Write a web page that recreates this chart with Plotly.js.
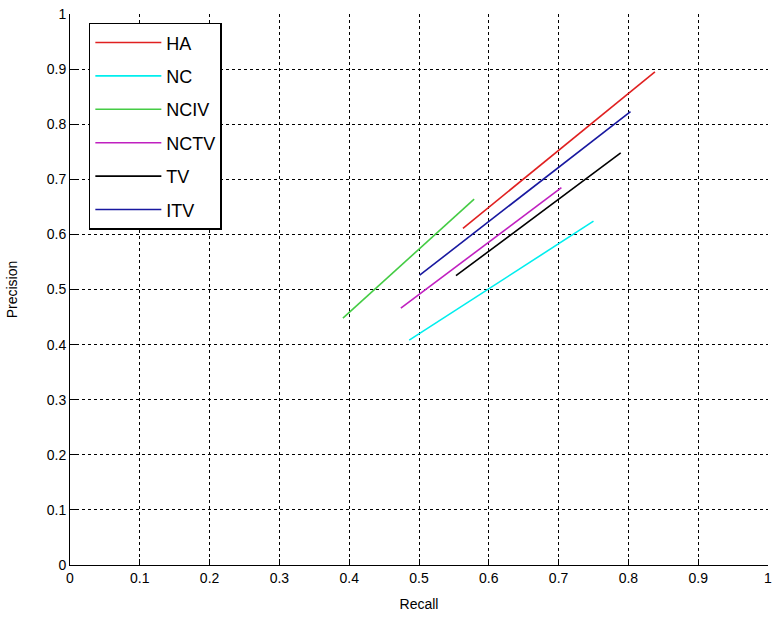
<!DOCTYPE html>
<html>
<head>
<meta charset="utf-8">
<script src="https://cdn.plot.ly/plotly-3.0.1.min.js"></script>
<style>
  body { margin: 0; background: #fff; }
  #chart { width: 779px; height: 620px; }
</style>
</head>
<body>
<div id="chart"></div>
<script>
// Recall / Precision endpoints
const methods = ["HA", "NC", "NCIV", "NCTV", "TV", "ITV"];
const recallHA = [0.563, 0.838];
const precisionHA = [0.611, 0.895];
const recallNC = [0.486, 0.750];
const precisionNC = [0.408, 0.624];
const recallNCIV = [0.391, 0.579];
const precisionNCIV = [0.448, 0.664];
const recallNCTV = [0.474, 0.704];
const precisionNCTV = [0.466, 0.685];
const recallTV = [0.553, 0.789];
const precisionTV = [0.525, 0.748];
const recallITV = [0.501, 0.803];
const precisionITV = [0.526, 0.823];
const tickVals = [0, 0.1, 0.2, 0.3, 0.4, 0.5, 0.6, 0.7, 0.8, 0.9, 1];
const tickText = ["0", "0.1", "0.2", "0.3", "0.4", "0.5", "0.6", "0.7", "0.8", "0.9", "1"];

const xs = [recallHA, recallNC, recallNCIV, recallNCTV, recallTV, recallITV];
const ys = [precisionHA, precisionNC, precisionNCIV, precisionNCTV, precisionTV, precisionITV];
const colors = ["#e02020", "#00eeee", "#44cc44", "#c020c0", "#000000", "#1818a0"];

const traces = methods.map((name, i) => ({
    x: xs[i],
    y: ys[i],
    name: name,
    legendgroup: name,
    type: "scatter",
    mode: "lines",
    line: { color: colors[i], width: 1.6 }
}));

const fontFam = "Liberation Sans, Arial, sans-serif";

const axisCommon = {
    range: [0, 1],
    tickvals: tickVals,
    ticktext: tickText,
    showgrid: true,
    gridcolor: "#000",
    griddash: "dot",
    gridwidth: 1,
    zeroline: false,
    showline: true,
    linecolor: "#000",
    linewidth: 1,
    ticks: "inside",
    ticklen: 6,
    tickcolor: "#000",
    tickfont: { family: fontFam, size: 14, color: "#000" },
    automargin: false,
    fixedrange: true
};

const layout = {
    width: 779,
    height: 620,
    margin: { l: 70, r: 11, t: 14, b: 55 },
    paper_bgcolor: "#fff",
    plot_bgcolor: "#fff",
    font: { family: fontFam, size: 14, color: "#000" },
    xaxis: Object.assign({}, axisCommon, {
        title: { text: "Recall", font: { family: fontFam, size: 14 }, standoff: 14 }
    }),
    yaxis: Object.assign({}, axisCommon, {
        title: { text: "Precision", font: { family: fontFam, size: 14 }, standoff: 25 }
    }),
    showlegend: true,
    legend: {
        x: 0.027,
        y: 0.984,
        xanchor: "left",
        yanchor: "top",
        bgcolor: "#fff",
        bordercolor: "#000",
        borderwidth: 1.5,
        traceorder: "grouped",
        tracegroupgap: 7,
        itemwidth: 66,
        font: { family: fontFam, size: 18, color: "#000" }
    }
};

Plotly.newPlot("chart", traces, layout, { displayModeBar: false, staticPlot: true });
</script>
</body>
</html>
